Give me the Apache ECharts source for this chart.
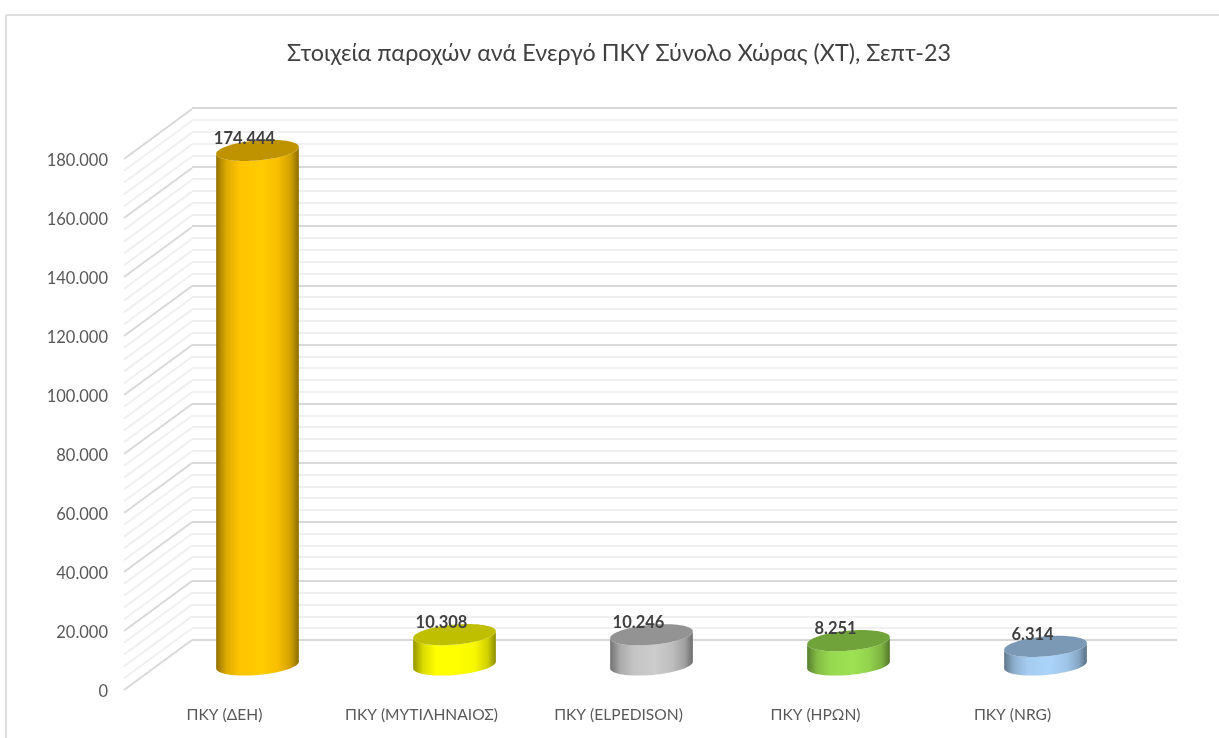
<!DOCTYPE html>
<html>
<head>
<meta charset="utf-8">
<title>ΠΚΥ</title>
<script src="https://cdn.jsdelivr.net/npm/echarts@6/dist/echarts.min.js"></script>
<style>
html, body { margin: 0; padding: 0; background: #fff; }
#main { width: 1219px; height: 738px; }
</style>
</head>
<body>
<div id="main"></div>
<script>
var chartTitle = 'Στοιχεία παροχών ανά Ενεργό ΠΚΥ Σύνολο Χώρας (ΧΤ), Σεπτ-23';
var categories = ['ΠΚΥ (ΔΕΗ)', 'ΠΚΥ (ΜΥΤΙΛΗΝΑΙΟΣ)', 'ΠΚΥ (ELPEDISON)', 'ΠΚΥ (ΗΡΩΝ)', 'ΠΚΥ (NRG)'];
var values = [174444, 10308, 10246, 8251, 6314];
var barColors = ['#ffc400', '#ffff00', '#c4c4c4', '#97d94f', '#a4ccf0'];
var yTicks = [0, 20000, 40000, 60000, 80000, 100000, 120000, 140000, 160000, 180000];
var minorPerTick = 5;

var fontName = 'Lato, "Open Sans", sans-serif';
var labelDrop = 2;             // front grid sits this much low so the tick labels centre on the lines
var wallX = 66, wallY = 50;    // offset front edge -> back wall
var depthX = 33, depthY = 25;  // bars stand halfway on the floor
var radiusA = 41.5, radiusB = 10, tilt = -5 * Math.PI / 180;

function dotted(v) {
    return String(v).replace(/\B(?=(\d{3})+$)/g, '.');
}

function shade(hex, f) {
    var n = parseInt(hex.slice(1), 16);
    var r = Math.min(255, Math.round((n >> 16 & 255) * f));
    var g = Math.min(255, Math.round((n >> 8 & 255) * f));
    var b = Math.min(255, Math.round((n & 255) * f));
    return 'rgb(' + r + ',' + g + ',' + b + ')';
}

// point on the tilted ellipse
function ellipsePoint(cx, cy, t) {
    var x = radiusA * Math.cos(t), y = radiusB * Math.sin(t);
    return [cx + x * Math.cos(tilt) - y * Math.sin(tilt), cy + x * Math.sin(tilt) + y * Math.cos(tilt)];
}

function ellipse(cx, cy) {
    var pts = [];
    for (var i = 0; i < 72; i++) {
        pts.push(ellipsePoint(cx, cy, i / 72 * Math.PI * 2));
    }
    return pts;
}

function cylinderItem(params, api) {
    var idx = api.value(0), val = api.value(1);
    var top = api.coord([idx, val]);
    var base = api.coord([idx, 0]);
    var cx = top[0] + depthX, topY = top[1] - labelDrop - depthY, baseY = base[1] - labelDrop - depthY;
    var color = barColors[idx];
    var body = [], i;
    // lower half of the bottom ellipse, then back along the lower half of the top
    for (i = 0; i <= 36; i++) {
        body.push(ellipsePoint(cx, baseY, i / 36 * Math.PI));
    }
    for (i = 36; i >= 0; i--) {
        body.push(ellipsePoint(cx, topY, i / 36 * Math.PI));
    }
    return {
        type: 'group',
        children: [{
            type: 'polygon',
            shape: { points: body },
            style: {
                fill: new echarts.graphic.LinearGradient(0, 0, 1, 0, [
                    { offset: 0, color: shade(color, 0.58) },
                    { offset: 0.12, color: shade(color, 0.86) },
                    { offset: 0.28, color: shade(color, 1) },
                    { offset: 0.55, color: shade(color, 1.04) },
                    { offset: 0.75, color: shade(color, 0.97) },
                    { offset: 0.9, color: shade(color, 0.82) },
                    { offset: 1, color: shade(color, 0.55) }
                ])
            }
        }, {
            type: 'polygon',
            shape: { points: ellipse(cx, topY) },
            style: { fill: shade(color, 0.75) }
        }, {
            type: 'text',
            style: {
                text: dotted(val),
                x: cx - 13,
                y: topY - 12,
                align: 'center',
                verticalAlign: 'middle',
                fill: '#404040',
                font: 'bold 16.5px ' + fontName
            }
        }]
    };
}

// slanted lines on the side wall, major ones darker
function wallItem(params, api) {
    var val = api.value(1);
    var p = api.coord([0, val]);
    var x0 = params.coordSys.x;
    var y0 = p[1] - labelDrop;
    var major = yTicks.indexOf(val) >= 0;
    return {
        type: 'line',
        shape: { x1: x0 - 2, y1: y0, x2: x0 + wallX, y2: y0 - wallY },
        style: { stroke: major ? '#d9d9d9' : '#f0f0f0', lineWidth: 2 }
    };
}

var wallData = [];
yTicks.forEach(function (v, i) {
    wallData.push([0, v]);
    if (i < yTicks.length - 1) {
        for (var k = 1; k < minorPerTick; k++) {
            wallData.push([0, v + (yTicks[i + 1] - v) * k / minorPerTick]);
        }
    }
});

var yMax = yTicks[yTicks.length - 1];
var yStep = yTicks[1] - yTicks[0];

var myChart = echarts.init(document.getElementById('main'));
var option = {
    animation: false,
    backgroundColor: '#fff',
    title: {
        text: chartTitle,
        left: 614,
        top: 37,
        textAlign: 'center',
        textStyle: { color: '#404040', fontSize: 23.3, fontWeight: 'normal', fontFamily: fontName }
    },
    grid: [
        { left: 126, top: 159 + labelDrop, width: 985, height: 531 },  // front edge: labels and bars
        { left: 192, top: 108, width: 985, height: 532 }               // back wall: grid lines
    ],
    xAxis: [{
        type: 'category',
        gridIndex: 0,
        data: categories,
        axisLine: { show: false },
        axisTick: { show: false },
        axisLabel: { color: '#595959', fontSize: 15.6, fontFamily: fontName, margin: 15, interval: 0 }
    }, {
        type: 'category',
        gridIndex: 1,
        data: categories,
        axisLine: { show: false },
        axisTick: { show: false },
        axisLabel: { show: false }
    }],
    yAxis: [{
        type: 'value',
        gridIndex: 0,
        min: 0,
        max: yMax,
        interval: yStep,
        axisLine: { show: false },
        axisTick: { show: false },
        splitLine: { show: false },
        axisLabel: {
            color: '#595959',
            fontSize: 16.5,
            fontFamily: fontName,
            margin: 18,
            formatter: dotted
        }
    }, {
        type: 'value',
        gridIndex: 1,
        min: 0,
        max: yMax,
        interval: yStep,
        axisLine: { show: false },
        axisTick: { show: false },
        axisLabel: { show: false },
        splitLine: { show: true, lineStyle: { color: '#d9d9d9', width: 2 } },
        minorTick: { show: false, splitNumber: minorPerTick },
        minorSplitLine: { show: true, lineStyle: { color: '#f0f0f0', width: 2 } }
    }],
    series: [{
        type: 'custom',
        name: 'wall',
        xAxisIndex: 0,
        yAxisIndex: 0,
        clip: false,
        silent: true,
        renderItem: wallItem,
        data: wallData,
        z: 1
    }, {
        type: 'custom',
        name: 'ΠΚΥ',
        xAxisIndex: 0,
        yAxisIndex: 0,
        clip: false,
        renderItem: cylinderItem,
        data: values.map(function (v, i) { return [i, v]; }),
        z: 5
    }],
    graphic: [{
        type: 'line',
        shape: { x1: 6, y1: 15, x2: 1219, y2: 15 },
        style: { stroke: '#dedede', lineWidth: 2 }
    }, {
        type: 'line',
        shape: { x1: 6, y1: 15, x2: 6, y2: 738 },
        style: { stroke: '#dedede', lineWidth: 2 }
    }]
};
myChart.setOption(option);
</script>
</body>
</html>
